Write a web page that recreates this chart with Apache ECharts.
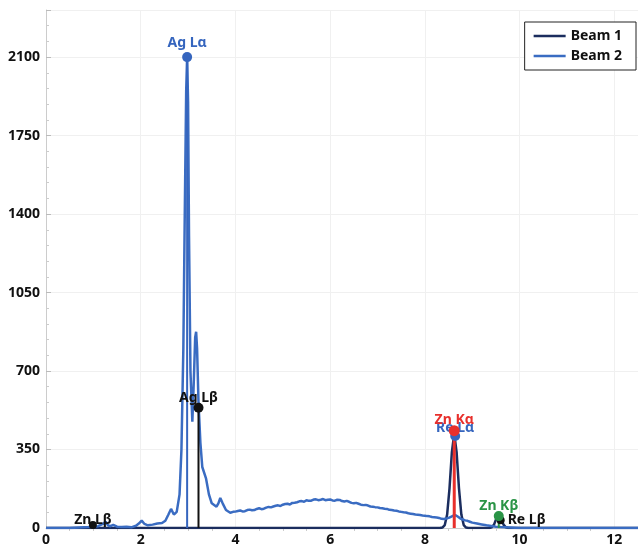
<!DOCTYPE html>
<html>
<head>
<meta charset="utf-8">
<script src="https://cdn.jsdelivr.net/npm/echarts@6/dist/echarts.min.js"></script>
<style>html,body{margin:0;padding:0;background:#fff}#c{width:638px;height:551px}</style>
</head>
<body>
<div id="c"></div>
<script>
// Beam 1: [energy keV, counts]
const beam1 = [
  [0,0],[8.32,0],[8.37,2],[8.42,13],[8.47,60],[8.52,177],[8.57,338],[8.62,420],[8.67,338],[8.72,177],[8.77,60],[8.82,13],[8.87,2],[8.92,0],
  [9.36,0],[9.41,3],[9.46,15],[9.51,43],[9.56,60],[9.61,43],[9.66,15],[9.71,3],[9.76,0],[12.5,0]
];
// Beam 2: [energy keV, counts]
const beam2 = [
  [0,0],[0.5,0],[0.7,2],[0.9,4],[1.0,6],[1.1,8],[1.2,18],[1.26,28],[1.31,12],[1.36,8],[1.42,14],[1.5,6],[1.6,4],[1.7,6],[1.8,3],
  [1.9,10],[1.96,20],[2.02,33],[2.08,18],[2.15,12],[2.25,15],[2.35,20],[2.45,22],[2.52,32],[2.58,58],[2.64,85],[2.7,60],[2.76,72],
  [2.82,150],[2.86,350],[2.9,800],[2.93,1400],[2.96,1950],[2.98,2100],[3.0,1900],[3.02,1300],[3.05,700],[3.09,474],[3.12,650],
  [3.15,850],[3.17,875],[3.19,800],[3.22,560],[3.26,380],[3.3,272],[3.34,276],[3.38,220],[3.44,150],[3.5,110],[3.54,117],[3.6,95],
  [3.64,110],[3.68,134],[3.73,110],[3.8,80],[3.89,68],[3.95,72],
  [4.0,73],[4.05,76],[4.1,78],[4.15,74],[4.2,75],[4.25,80],[4.3,82],[4.35,79],[4.4,80],[4.45,85],[4.5,88],[4.55,84],[4.6,86],[4.65,91],
  [4.7,94],[4.75,92],[4.8,96],[4.85,99],[4.9,101],[4.95,98],[5.0,104],[5.05,107],[5.1,108],[5.15,105],[5.2,112],[5.25,113],[5.3,115],
  [5.35,119],[5.4,120],[5.45,117],[5.5,124],[5.55,121],[5.6,122],[5.65,127],[5.7,128],[5.75,124],[5.8,126],[5.85,129],[5.9,124],
  [5.95,126],[6.0,127],[6.05,123],[6.1,122],[6.15,126],[6.2,125],[6.25,120],[6.3,118],[6.35,121],[6.4,117],[6.45,112],[6.5,110],
  [6.55,112],[6.6,108],[6.65,104],[6.7,102],[6.75,103],[6.8,100],[6.85,96],[6.9,95],[6.95,93],[7.0,92],[7.05,89],[7.1,88],[7.15,86],
  [7.2,85],[7.25,81],[7.3,80],[7.35,78],[7.4,77],[7.45,74],[7.5,72],[7.55,70],[7.6,69],[7.65,66],[7.7,64],[7.75,62],[7.8,60],[7.85,59],
  [7.9,58],[7.95,56],[8.0,55],[8.05,53],[8.1,52],[8.15,49],[8.2,48],[8.25,47],[8.3,45],[8.35,41],[8.4,40],[8.45,42],[8.5,45],[8.55,50],
  [8.6,55],[8.65,57],[8.7,50],[8.75,42],[8.8,38],[8.85,34],[8.9,32],[8.95,28],[9.0,24],[9.1,20],[9.2,16],[9.3,12],[9.4,9],[9.5,6],
  [9.6,4],[9.8,2],[10.0,0],[12.5,0]
];
// Emission line annotations
const lineNames = ['Re Lβ','Zn Lβ','Ag Lα','Ag Lβ','Re Lα','Zn Kα','Zn Kβ'];
const lineEnergies = [9.6, 0.99, 2.98, 3.22, 8.64, 8.62, 9.56];
const lineHeights = [35, 13, 2100, 536, 410, 434, 53];
const lineColors = ['#111111','#111111','#3565be','#111111','#3565be','#e8302c','#2a9446'];
const stemNames = ['Ag Lα','Ag Lβ','Zn Kα','Zn Kβ'];
const legendNames = ['Beam 1','Beam 2'];
const xTicks = [0,2,4,6,8,10,12];
const yTicks = [0,350,700,1050,1400,1750,2100];

const C1 = '#1b2d5e', C2 = '#3a6cc2';
const font = 'Noto Sans';

const series = [
  {name: legendNames[0], type:'line', data: beam1, showSymbol:false, symbol:'none', lineStyle:{color:C1,width:2.5}, itemStyle:{color:C1}, z:2, animation:false},
  {name: legendNames[1], type:'line', data: beam2, showSymbol:false, symbol:'none', lineStyle:{color:C2,width:2.5}, itemStyle:{color:C2}, z:3, animation:false}
];
const stemWidths = {'Ag Lα':2,'Ag Lβ':2,'Zn Kα':3,'Zn Kβ':2};
stemNames.forEach(n => {
  const i = lineNames.indexOf(n);
  series.push({type:'line', name:'stem '+n, data:[[lineEnergies[i],0],[lineEnergies[i],lineHeights[i]]], symbol:'none',
    lineStyle:{color:lineColors[i], width:stemWidths[n]}, z:4, animation:false, silent:true});
});
const labelOffsets = {'Re Lβ':[0,0],'Zn Lβ':[0,9],'Ag Lα':[0,1],'Ag Lβ':[0,5],'Re Lα':[0,7],'Zn Kα':[0,5],'Zn Kβ':[0,5]};
const dotSizes = {'Re Lβ':8,'Zn Lβ':8,'Ag Lα':10,'Ag Lβ':10,'Re Lα':10,'Zn Kα':11,'Zn Kβ':10};
lineNames.forEach((n,i) => {
  const pos = n === 'Re Lβ' ? 'right' : 'top';
  series.push({type:'scatter', name:'pt '+n, data:[[lineEnergies[i], lineHeights[i]]], symbolSize: dotSizes[n],
    itemStyle:{color:lineColors[i], opacity:1}, z:5+i, animation:false,
    label:{show:true, formatter:n, position:pos, distance:3, offset:labelOffsets[n], color:lineColors[i], fontFamily:font, fontWeight:'bold', fontSize:14}});
});

const chart = echarts.init(document.getElementById('c'), null, {renderer:'canvas'});
chart.setOption({
  animation:false,
  backgroundColor:'#ffffff',
  textStyle:{fontFamily:font},
  grid:{left:46, right:0, top:10, bottom:23, containLabel:false},
  legend:{data:legendNames, right:2, top:22, orient:'vertical', backgroundColor:'#fff', borderColor:'#222', borderWidth:1,
    padding:[7,14,7,9], itemGap:6, itemWidth:32, itemHeight:16, icon:'path://M0,7 L32,7 L32,9.5 L0,9.5 Z',
    textStyle:{fontFamily:font, fontWeight:'bold', fontSize:14, color:'#111'}},
  xAxis:{type:'value', min:xTicks[0], max:12.5, interval:xTicks[1]-xTicks[0],
    axisLine:{show:true, lineStyle:{color:'#cccccc'}}, axisTick:{show:false},
    minorTick:{show:true, splitNumber:4, length:3, lineStyle:{color:'#cccccc'}},
    splitLine:{show:true, lineStyle:{color:'#f0f0f0', width:1}},
    axisLabel:{color:'#111', fontFamily:font, fontWeight:'bold', fontSize:14, margin:5, showMaxLabel:false, formatter: v => String(v)}},
  yAxis:{type:'value', min:yTicks[0], max:2310, interval:yTicks[1]-yTicks[0],
    axisLine:{show:true, lineStyle:{color:'#cccccc'}}, axisTick:{show:true, inside:true, length:5, lineStyle:{color:'#bbbbbb'}},
    minorTick:{show:true, splitNumber:5, length:3, lineStyle:{color:'#cccccc'}},
    splitLine:{show:true, lineStyle:{color:'#f0f0f0', width:1}},
    axisLabel:{color:'#111', fontFamily:font, fontWeight:'bold', fontSize:14, margin:6, showMaxLabel:false, formatter: v => String(v)}},
  series: series
});
</script>
</body>
</html>
